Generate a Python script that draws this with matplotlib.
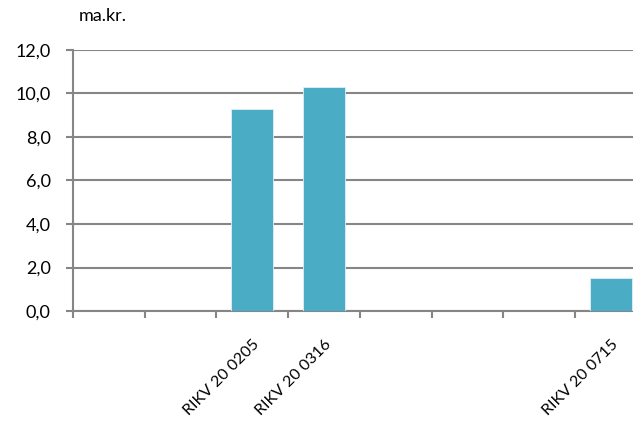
import matplotlib
matplotlib.use("Agg")
import matplotlib.pyplot as plt

categories = ["", "", "RIKV 20 0205", "RIKV 20 0316", "", "", "", "RIKV 20 0715"]
values = [0, 0, 9.3, 10.3, 0, 0, 0, 1.5]
yticks = [0, 2, 4, 6, 8, 10, 12]
ylabel_unit = "ma.kr."

plt.rcParams['font.family'] = ['Lato', 'DejaVu Sans']
grey = '#868686'

fig = plt.figure(figsize=(6.33, 4.23), dpi=100)
ax = fig.add_axes([73/633, 112/423, 574/633, 261/423])

x = list(range(len(categories)))
ax.bar(x, values, width=0.585, color='#4BACC6', edgecolor='#dff0f5', linewidth=0.6, zorder=3)

ax.set_xlim(-0.5, len(categories) - 0.5)
ax.set_ylim(0, 12)
ax.set_yticks(yticks)
ax.set_yticklabels([f"{v:.1f}".replace('.', ',') for v in yticks], fontsize=13)
ax.yaxis.grid(True, color=grey, linewidth=1.5, zorder=0)

# ticks at category boundaries, labels at centres
ax.set_xticks([i - 0.5 for i in x], minor=False)
ax.set_xticklabels([])
ax.set_xticks(x, minor=True)
ax.set_xticklabels(categories, minor=True, rotation=45, ha='right', va='top',
                   rotation_mode='anchor', fontsize=11.5)
ax.tick_params(axis='x', which='minor', length=0, pad=19)
ax.tick_params(axis='x', which='major', length=5, color=grey, width=1.5)
ax.tick_params(axis='y', length=5, color=grey, width=1.5, pad=11)

for s in ['top', 'right']:
    ax.spines[s].set_visible(False)
for s in ['left', 'bottom']:
    ax.spines[s].set_color(grey)
    ax.spines[s].set_linewidth(1.5)

fig.text(103/633, 1 - 16/423, ylabel_unit, ha='center', va='center', fontsize=13)

fig.savefig("out.png", dpi=100)
